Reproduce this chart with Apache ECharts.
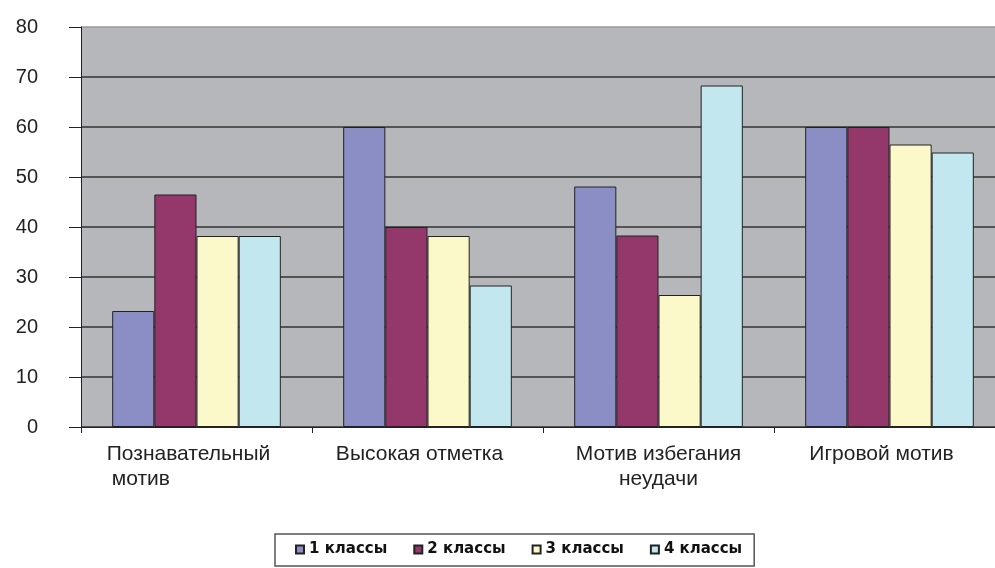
<!DOCTYPE html>
<html>
<head>
<meta charset="utf-8">
<script src="https://cdn.jsdelivr.net/npm/echarts@6/dist/echarts.min.js"></script>
<style>html,body{margin:0;padding:0;background:#fff}#c{width:995px;height:568px}</style>
</head>
<body>
<div id="c"></div>
<script>
var categories = ['Познавательный мотив', 'Высокая отметка', 'Мотив избегания неудачи', 'Игровой мотив'];
var seriesNames = ['1 классы', '2 классы', '3 классы', '4 классы'];
var values1 = [23.2, 60, 48.1, 60];
var values2 = [46.5, 40, 38.3, 60];
var values3 = [38.2, 38.2, 26.4, 56.5];
var values4 = [38.2, 28.3, 68.3, 54.9];
var yTicks = [0, 10, 20, 30, 40, 50, 60, 70, 80];

var colors = ['#8B8DC5', '#94376B', '#FBF9C9', '#C3E7EF'];
var allValues = [values1, values2, values3, values4];

var labelMap = {
  'Познавательный мотив': '{a|Познавательный}\n{b| мотив}',
  'Высокая отметка': '{c|Высокая отметка}',
  'Мотив избегания неудачи': '{c|Мотив избегания}\n{c|неудачи}',
  'Игровой мотив': '{c|Игровой мотив}'
};
var labelShift = {
  'Познавательный мотив': 16,
  'Высокая отметка': 16,
  'Мотив избегания неудачи': 0,
  'Игровой мотив': 16
};

var chart = echarts.init(document.getElementById('c'), null, {renderer: 'canvas'});
var font = '"Liberation Sans", Arial, sans-serif';
var xfs = 21;

var series = seriesNames.map(function (n, i) {
  return {
    name: n,
    type: 'bar',
    data: allValues[i],
    barGap: '0%',
    barCategoryGap: '27%',
    itemStyle: {color: colors[i], borderColor: '#222', borderWidth: 1},
    emphasis: {disabled: true}
  };
});

var catData = categories.map(function (c) {
  return {value: c, textStyle: {padding: [0, labelShift[c], 0, 0]}};
});

chart.setOption({
  animation: false,
  grid: {
    left: 81, width: 924, top: 27, bottom: 141,
    outerBoundsMode: 'none',
    containLabel: false,
    show: true, backgroundColor: '#B6B7BA', borderWidth: 0
  },
  legend: {
    data: seriesNames,
    left: 275, top: 534,
    padding: [8, 12, 9, 20],
    itemGap: 26,
    itemWidth: 8, itemHeight: 8,
    icon: 'rect',
    borderColor: '#555', borderWidth: 1.5,
    textStyle: {
      fontFamily: '"DejaVu Sans", sans-serif', fontWeight: 'bold', fontSize: 15, color: '#111'
    }
  },
  xAxis: {
    type: 'category',
    data: catData,
    axisLine: {show: true, lineStyle: {color: '#222', width: 1}},
    axisTick: {show: true, length: 6, alignWithLabel: false, lineStyle: {color: '#222'}},
    splitLine: {show: false},
    axisLabel: {
      margin: 15,
      interval: 0,
      color: '#222',
      fontFamily: font,
      fontSize: xfs,
      lineHeight: 25,
      formatter: function (v) { return labelMap[v] || v; },
      rich: {
        a: {fontFamily: font, fontSize: xfs, lineHeight: 25, color: '#222'},
        b: {fontFamily: font, fontSize: xfs, lineHeight: 25, color: '#222', width: 165, align: 'left'},
        c: {fontFamily: font, fontSize: xfs, lineHeight: 25, color: '#222'}
      }
    }
  },
  yAxis: {
    type: 'value',
    min: yTicks[0], max: yTicks[yTicks.length - 1], interval: 10,
    axisLine: {show: true, lineStyle: {color: '#222', width: 1}},
    axisTick: {show: true, inside: false, length: 12, lineStyle: {color: '#222'}},
    axisLabel: {margin: 43, color: '#222', fontFamily: font, fontSize: 20},
    splitLine: {
      show: true,
      lineStyle: {
        color: ['#333', '#333', '#333', '#333', '#333', '#333', '#333', '#333', '#999'],
        width: 1.5
      }
    }
  },
  series: series
});
</script>
</body>
</html>
